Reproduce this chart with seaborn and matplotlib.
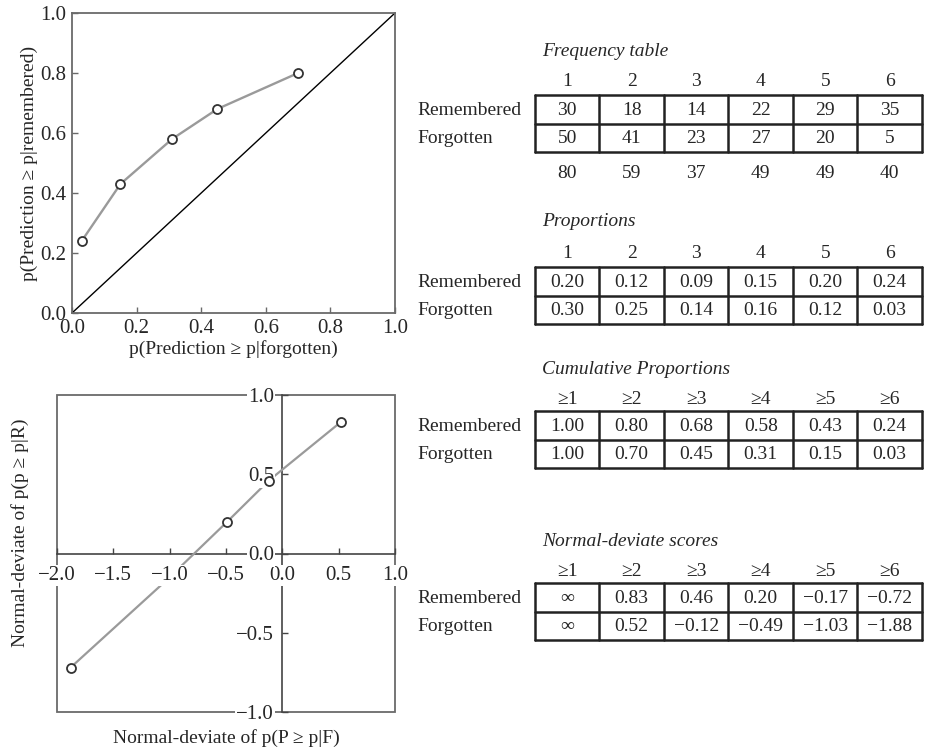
import matplotlib.pyplot as plt
import numpy as np
import seaborn as sns
from matplotlib.patches import Rectangle
from matplotlib.ticker import FuncFormatter

# table data
categories = ['1', '2', '3', '4', '5', '6']
cum_categories = ['≥1', '≥2', '≥3', '≥4', '≥5', '≥6']
row_labels = ['Remembered', 'Forgotten']

freq_remembered = [30, 18, 14, 22, 29, 35]
freq_forgotten = [50, 41, 23, 27, 20, 5]
freq_totals = [80, 59, 37, 49, 49, 40]

prop_remembered = [0.20, 0.12, 0.09, 0.15, 0.20, 0.24]
prop_forgotten = [0.30, 0.25, 0.14, 0.16, 0.12, 0.03]

cum_remembered = [1.00, 0.80, 0.68, 0.58, 0.43, 0.24]
cum_forgotten = [1.00, 0.70, 0.45, 0.31, 0.15, 0.03]

z_remembered = [np.inf, 0.83, 0.46, 0.20, -0.17, -0.72]
z_forgotten = [np.inf, 0.52, -0.12, -0.49, -1.03, -1.88]

sns.set_theme(style='ticks')
plt.rcParams['font.family'] = ['Liberation Serif', 'DejaVu Serif']

FS = 14
TFS = 15
FRAME = '#6a6a6a'
LINE = '#9a9a9a'

fig = plt.figure(figsize=(9.27, 7.51), dpi=100)
W, H = 927, 751


def px_axes(x0, y0, x1, y1):
    return fig.add_axes([x0 / W, 1 - y1 / H, (x1 - x0) / W, (y1 - y0) / H])


# ---- ROC plot (top left)
ax1 = px_axes(72, 13, 395, 313)
ax1.plot([0, 1], [0, 1], color='black', lw=1.0)
sns.lineplot(x=cum_forgotten[1:], y=cum_remembered[1:], ax=ax1, color=LINE,
             lw=1.7, sort=False)
sns.scatterplot(x=cum_forgotten[1:], y=cum_remembered[1:], ax=ax1, s=42,
                facecolor='white', edgecolor='#333333', linewidth=1.3, zorder=3)
ax1.set_xlim(0, 1)
ax1.set_ylim(0, 1)
ax1.set_xticks(np.arange(0, 1.01, 0.2))
ax1.set_yticks(np.arange(0, 1.01, 0.2))
ax1.xaxis.set_major_formatter(FuncFormatter(lambda v, p: f'{v:.1f}'))
ax1.yaxis.set_major_formatter(FuncFormatter(lambda v, p: f'{v:.1f}'))
ax1.tick_params(direction='in', length=4, width=1, color=FRAME,
                labelsize=TFS, pad=4)
for s in ax1.spines.values():
    s.set_color(FRAME)
    s.set_linewidth(1.3)
ax1.set_xlabel('p(Prediction ≥ p|forgotten)', fontsize=FS, labelpad=2)
ax1.set_ylabel('p(Prediction ≥ p|remembered)', fontsize=FS, labelpad=2)

# ---- normal-deviate plot (bottom left)
ax2 = px_axes(57, 395, 395, 712)
ax2.set_axisbelow(False)
zx = z_forgotten[1:]
zy = z_remembered[1:]
sns.lineplot(x=zx, y=zy, ax=ax2, color=LINE, lw=1.6, sort=False)
mk = [i for i in range(len(zx)) if i != 3]
sns.scatterplot(x=[zx[i] for i in mk], y=[zy[i] for i in mk], ax=ax2, s=42,
                facecolor='white', edgecolor='#333333', linewidth=1.3, zorder=3)
ax2.set_xlim(-2, 1)
ax2.set_ylim(-1, 1)
ax2.set_xticks(np.arange(-2, 1.01, 0.5))
ax2.set_yticks(np.arange(-1, 1.01, 0.5))
ax2.xaxis.set_major_formatter(FuncFormatter(lambda v, p: f'{v:.1f}'.replace('-', '−')))
ax2.yaxis.set_major_formatter(FuncFormatter(lambda v, p: f'{v:.1f}'.replace('-', '−')))
ax2.spines['left'].set_position(('data', 0))
ax2.spines['bottom'].set_position(('data', 0))
ax2.spines['top'].set_visible(False)
ax2.spines['right'].set_visible(False)
for s in ('left', 'bottom'):
    ax2.spines[s].set_color('#444444')
    ax2.spines[s].set_linewidth(1.2)
    ax2.spines[s].set_zorder(1.2)
ax2.add_patch(Rectangle((0, 0), 1, 1, transform=ax2.transAxes, fill=False,
                        edgecolor=FRAME, lw=1.3, clip_on=False, zorder=1.1))
ax2.tick_params(direction='in', length=4, width=1, color='#444444',
                labelsize=TFS)
ax2.tick_params(axis='x', pad=9)
ax2.tick_params(axis='y', pad=6)
for lab in ax2.get_xticklabels() + ax2.get_yticklabels():
    lab.set_bbox(dict(facecolor='white', edgecolor='none', pad=1))
fig.text(226 / W, 1 - 738 / H, 'Normal-deviate of p(P ≥ p|F)', fontsize=FS,
         ha='center', va='center')
fig.text(20 / W, 1 - 533 / H, 'Normal-deviate of p(p ≥ p|R)', fontsize=FS,
         ha='center', va='center', rotation=90)

# ---- tables (right side), drawn in pixel coordinates
axt = fig.add_axes([0, 0, 1, 1])
axt.set_xlim(0, W)
axt.set_ylim(H, 0)
axt.axis('off')

X0, CW, ROW_H = 535, 64.5, 28.5


def fmt2(v):
    if np.isinf(v):
        return '∞'
    return f'{v:.2f}'.replace('-', '−')


def draw_table(title, headers, rem, forg, y_title, y_head, y_top, fmt, totals=None):
    axt.text(542, y_title, title, fontsize=FS, style='italic', ha='left', va='center')
    for j, h in enumerate(headers):
        axt.text(X0 + CW * (j + 0.5), y_head, h, fontsize=FS, ha='center', va='center')
    for i, (lab, vals) in enumerate(zip(row_labels, [rem, forg])):
        yc = y_top + ROW_H * (i + 0.5) + 1
        axt.text(417, yc, lab, fontsize=FS, ha='left', va='center')
        for j, v in enumerate(vals):
            axt.text(X0 + CW * (j + 0.5), yc, fmt(v), fontsize=FS,
                     ha='center', va='center')
    y_bot = y_top + 2 * ROW_H
    for k in range(3):
        axt.plot([X0, X0 + 6 * CW], [y_top + k * ROW_H] * 2, color='#222222', lw=1.8)
    for j in range(7):
        axt.plot([X0 + j * CW] * 2, [y_top, y_bot], color='#222222', lw=1.8)
    if totals is not None:
        for j, v in enumerate(totals):
            axt.text(X0 + CW * (j + 0.5), y_bot + 22, str(v), fontsize=FS,
                     ha='center', va='center')


draw_table('Frequency table', categories, freq_remembered, freq_forgotten,
           52, 82, 95, str, totals=freq_totals)
draw_table('Proportions', categories, prop_remembered, prop_forgotten,
           222, 253, 267, fmt2)
draw_table('Cumulative Proportions', cum_categories, cum_remembered, cum_forgotten,
           370, 400, 411, fmt2)
draw_table('Normal-deviate scores', cum_categories, z_remembered, z_forgotten,
           542, 572, 583, fmt2)

fig.savefig('out.png', dpi=100)
